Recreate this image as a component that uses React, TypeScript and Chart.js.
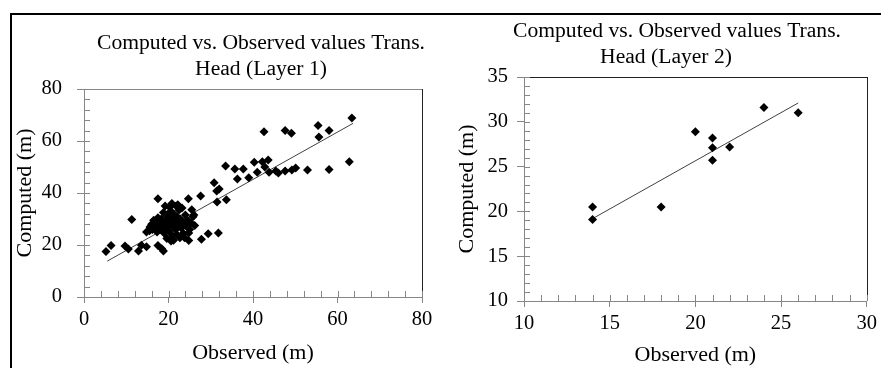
import React, { useEffect, useRef } from "react";
import { Chart, registerables } from "chart.js";
Chart.register(...registerables);

const FONT = "'Liberation Serif', 'Times New Roman', serif";

// Layer 1 data (Observed, Computed)
const layer1Observed = [
  63.4, 42.6, 47.6, 49.1, 55.4, 55.6, 58.0, 62.8, 58.0, 52.9,
  50.1, 49.2, 47.6, 46.0, 45.4, 43.6, 42.2, 40.3, 42.8, 43.8,
  41.0, 37.7, 35.7, 33.5, 36.3, 39.0, 30.8, 32.0, 31.4, 33.7,
  31.5, 27.6, 24.7, 17.5, 5.2, 6.4, 9.7, 10.5, 11.3, 12.9,
  13.6, 14.8, 14.8, 15.6, 17.5, 18.4, 18.8, 19.2, 20.8, 22.2,
  23.2, 31.8, 29.4, 27.8, 24.8, 24.8, 22.7, 20.6, 25.8, 25.5,
  16.0, 16.5, 17.0, 17.3, 17.8, 18.0, 18.3, 18.6, 19.0, 19.2,
  19.5, 19.8, 20.0, 20.2, 20.5, 20.7, 21.0, 21.0, 21.2, 21.5,
  21.7, 22.0, 22.0, 22.3, 22.5, 22.8, 23.0, 23.3, 23.5, 24.0,
  24.0, 24.5, 25.0, 25.3, 16.2, 15.5, 17.5, 18.8, 20.3, 21.8,
  19.6, 21.2, 23.8, 26.2, 26.0,
];
const layer1Computed = [
  68.8, 63.6, 64.0, 63.0, 66.0, 61.5, 64.0, 52.0, 49.0, 48.8,
  49.6, 48.8, 48.5, 47.7, 48.5, 52.7, 52.0, 51.8, 50.0, 48.0,
  48.0, 49.2, 49.2, 50.4, 45.4, 45.9, 43.9, 41.5, 40.8, 37.4,
  36.5, 38.8, 37.8, 37.8, 17.5, 19.8, 19.6, 18.5, 29.8, 17.7,
  19.9, 19.3, 25.0, 26.9, 19.8, 18.6, 17.7, 35.0, 36.0, 35.5,
  34.2, 24.6, 24.3, 22.2, 21.7, 24.6, 22.8, 21.5, 30.9, 33.6,
  28.0, 29.5, 27.0, 25.0, 28.5, 26.0, 30.0, 27.5, 24.5, 29.0,
  26.5, 31.0, 28.0, 25.0, 33.0, 30.0, 27.0, 23.5, 32.0, 29.0,
  26.0, 31.0, 24.0, 28.0, 33.5, 30.0, 26.5, 29.0, 24.5, 31.5,
  27.5, 29.5, 26.0, 28.5, 26.0, 25.5, 30.5, 32.5, 34.5, 35.0,
  22.5, 21.8, 22.8, 27.5, 31.5,
];
const layer1TrendObserved = [5.5, 63.7];
const layer1TrendComputed = [13.8, 66.8];
const layer1TitleLines = ["Computed vs. Observed values Trans.", "Head (Layer 1)"];

// Layer 2 data
const layer2Observed = [14, 14, 18, 20, 21, 21, 21, 22, 24, 26];
const layer2Computed = [20.5, 19.1, 20.5, 28.9, 28.2, 27.1, 25.7, 27.2, 31.6, 31.0];
const layer2TrendObserved = [14.1, 26];
const layer2TrendComputed = [19.3, 32.1];
const layer2TitleLines = ["Computed vs. Observed values Trans.", "Head (Layer 2)"];

const xTitle = "Observed (m)";
const yTitle = "Computed (m)";

const AXIS_GREY = "#868686";

const decorPlugin = {
  id: "decor",
  afterDraw(chart: any, _args: any, opts: any) {
    const { ctx, chartArea: a, scales } = chart;
    const x = scales.x;
    const y = scales.y;
    ctx.save();
    ctx.lineWidth = 1;
    // top border
    ctx.strokeStyle = opts.topColor;
    ctx.beginPath();
    ctx.moveTo(a.left, Math.round(a.top) + 0.5);
    ctx.lineTo(a.right + 0.5, Math.round(a.top) + 0.5);
    ctx.stroke();
    // right border
    ctx.strokeStyle = opts.rightColor;
    ctx.beginPath();
    ctx.moveTo(Math.round(a.right) + 0.5, a.top);
    ctx.lineTo(Math.round(a.right) + 0.5, a.bottom);
    ctx.stroke();
    // minor ticks
    ctx.strokeStyle = AXIS_GREY;
    ctx.beginPath();
    for (let v = x.min; v <= x.max + 1e-9; v += opts.xMinor) {
      const px = Math.round(x.getPixelForValue(v)) + 0.5;
      ctx.moveTo(px, a.bottom);
      ctx.lineTo(px, a.bottom - 6);
    }
    for (let v = y.min; v <= y.max + 1e-9; v += opts.yMinor) {
      const py = Math.round(y.getPixelForValue(v)) + 0.5;
      ctx.moveTo(a.left, py);
      ctx.lineTo(a.left + 6, py);
    }
    ctx.stroke();
    // title
    ctx.fillStyle = "#000";
    ctx.font = `${opts.titleSize}px ${FONT}`;
    ctx.textAlign = "center";
    ctx.textBaseline = "middle";
    opts.titleLines.forEach((t: string, i: number) => {
      ctx.fillText(t, opts.titleX[i], opts.titleY[i]);
    });
    ctx.restore();
  },
};

function makeConfig(p: any) {
  const pts = p.obs.map((v: number, i: number) => ({ x: v, y: p.comp[i] }));
  const trend = p.tObs.map((v: number, i: number) => ({ x: v, y: p.tComp[i] }));
  return {
    type: "scatter",
    data: {
      datasets: [
        {
          data: pts,
          pointStyle: "rectRot",
          pointRadius: 4.5,
          backgroundColor: "#000",
          borderColor: "#000",
          borderWidth: 0,
        },
        {
          data: trend,
          showLine: true,
          pointRadius: 0,
          borderColor: "#404040",
          borderWidth: 1,
        },
      ],
    },
    options: {
      responsive: false,
      animation: false,
      layout: { padding: p.padding },
      plugins: {
        legend: { display: false },
        tooltip: { enabled: false },
        decor: {
          topColor: p.topColor,
          rightColor: "#222",
          xMinor: p.xMinor,
          yMinor: p.yMinor,
          titleSize: 21.6,
          titleLines: p.titleLines,
          titleX: p.titleX,
          titleY: p.titleY,
        },
      },
      scales: {
        x: {
          type: "linear",
          min: p.xMin,
          max: p.xMax,
          ticks: { stepSize: p.xStep, font: { family: FONT, size: 20.5 }, color: "#000", padding: 4 },
          grid: { drawOnChartArea: false, tickLength: 6, color: AXIS_GREY, tickColor: AXIS_GREY },
          border: { color: AXIS_GREY, width: 1 },
          title: {
            display: true,
            text: xTitle,
            font: { family: FONT, size: 22 },
            color: "#000",
            padding: { top: 0, bottom: p.xTitlePad },
          },
          afterFit: (s: any) => {
            s.height = p.xHeight;
          },
        },
        y: {
          type: "linear",
          min: p.yMin,
          max: p.yMax,
          ticks: { stepSize: p.yStep, font: { family: FONT, size: 20.5 }, color: "#000", padding: p.yTickPad },
          grid: { drawOnChartArea: false, tickLength: 7, color: AXIS_GREY, tickColor: AXIS_GREY },
          border: { color: AXIS_GREY, width: 1 },
          title: {
            display: true,
            text: yTitle,
            font: { family: FONT, size: 22 },
            color: "#000",
            padding: { top: p.yTitlePad, bottom: 0 },
          },
          afterFit: (s: any) => {
            s.width = p.yWidth;
          },
        },
      },
    },
    plugins: [decorPlugin],
  };
}

function ChartCanvas(props: { params: any; width: number; height: number }) {
  const ref = useRef<HTMLCanvasElement | null>(null);
  useEffect(() => {
    if (!ref.current) return;
    const chart = new Chart(ref.current, makeConfig(props.params) as any);
    return () => chart.destroy();
  }, []);
  return (
    <canvas
      ref={ref}
      width={props.width}
      height={props.height}
      style={{ width: props.width, height: props.height, display: "block" }}
    />
  );
}

const leftParams = {
  obs: layer1Observed,
  comp: layer1Computed,
  tObs: layer1TrendObserved,
  tComp: layer1TrendComputed,
  titleLines: layer1TitleLines,
  titleX: [249, 249],
  titleY: [28, 54],
  xMin: 0,
  xMax: 80,
  xStep: 20,
  yMin: 0,
  yMax: 80,
  yStep: 20,
  xMinor: 4,
  yMinor: 4,
  padding: { left: 0, top: 74, right: 23, bottom: 0 },
  yWidth: 72,
  xHeight: 71,
  xTitlePad: 2,
  yTitlePad: 0,
  yTickPad: 15,
  topColor: AXIS_GREY,
};

const rightParams = {
  obs: layer2Observed,
  comp: layer2Computed,
  tObs: layer2TrendObserved,
  tComp: layer2TrendComputed,
  titleLines: layer2TitleLines,
  titleX: [232, 221],
  titleY: [16, 42],
  xMin: 10,
  xMax: 30,
  xStep: 5,
  yMin: 10,
  yMax: 35,
  yStep: 5,
  xMinor: 1,
  yMinor: 1,
  padding: { left: 0, top: 62, right: 13, bottom: 0 },
  yWidth: 79,
  xHeight: 67,
  xTitlePad: 0,
  yTitlePad: 9,
  yTickPad: 9,
  topColor: "#222",
};

export default function App() {
  return (
    <div
      style={{
        position: "fixed",
        left: 0,
        top: 0,
        width: 881,
        height: 368,
        background: "#fff",
        overflow: "hidden",
      }}
    >
      <div
        style={{
          position: "absolute",
          left: 10,
          top: 13,
          width: 900,
          height: 400,
          borderTop: "2px solid #000",
          borderLeft: "2px solid #000",
        }}
      />
      <div style={{ position: "absolute", left: 12, top: 15 }}>
        <ChartCanvas params={leftParams} width={433} height={353} />
      </div>
      <div style={{ position: "absolute", left: 445, top: 15 }}>
        <ChartCanvas params={rightParams} width={436} height={353} />
      </div>
    </div>
  );
}
